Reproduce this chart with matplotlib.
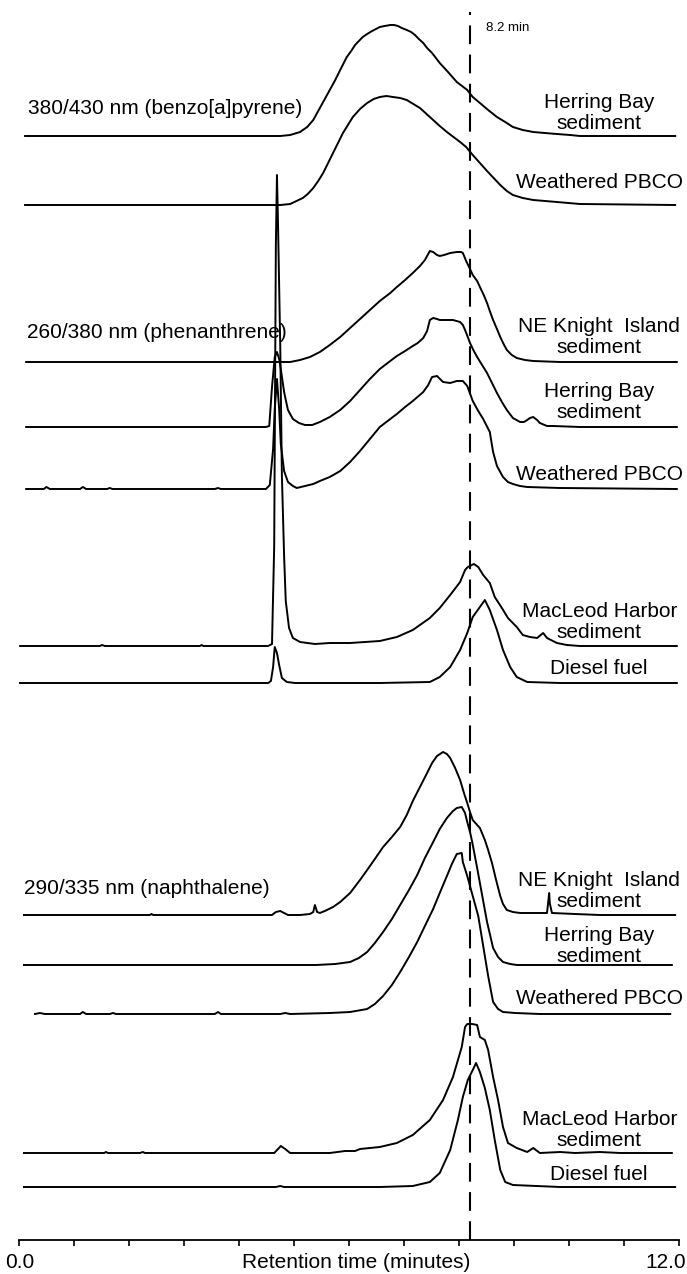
import numpy as np
import matplotlib
matplotlib.use('Agg')
import matplotlib.pyplot as plt

plt.rcParams['font.family'] = ['Liberation Sans', 'DejaVu Sans']

# (retention time in min, detector response in arbitrary units)

# 380/430 nm (benzo[a]pyrene)
bap_herring_bay = [
    (0.11, 0), (4.75, 0), (4.93, 1), (5.11, 4), (5.24, 9), (5.35, 16), (5.47, 28), (5.56, 37),
    (5.65, 46), (5.75, 56), (5.84, 66), (5.96, 79), (6.04, 85), (6.11, 91), (6.18, 95),
    (6.25, 99), (6.33, 102), (6.42, 105), (6.49, 107), (6.56, 109), (6.65, 110), (6.75, 111),
    (6.82, 111), (6.89, 110), (6.96, 108), (7.05, 106), (7.13, 104), (7.20, 101), (7.27, 97),
    (7.35, 93), (7.42, 88), (7.51, 83), (7.65, 73), (7.80, 64), (7.96, 54), (8.15, 46),
    (8.25, 39), (8.38, 33), (8.53, 26), (8.69, 19), (8.84, 14), (8.98, 9), (9.16, 6), (9.35, 4),
    (9.56, 3), (9.78, 2), (10.02, 1), (10.20, 0), (11.93, 0)]
bap_weathered = [
    (0.11, 0), (4.75, 0), (4.93, 1), (5.16, 7), (5.25, 11), (5.35, 17), (5.44, 24), (5.53, 32),
    (5.62, 42), (5.71, 52), (5.80, 62), (5.89, 72), (5.98, 80), (6.07, 88), (6.20, 96),
    (6.33, 102), (6.45, 106), (6.56, 108), (6.68, 109), (6.80, 108), (6.93, 107), (7.05, 105),
    (7.17, 101), (7.29, 97), (7.41, 91), (7.53, 85), (7.65, 79), (7.78, 73), (8.02, 63),
    (8.13, 58), (8.25, 50), (8.38, 42), (8.51, 34), (8.63, 27), (8.75, 20), (8.87, 14),
    (8.98, 10), (9.16, 7), (9.35, 5), (9.78, 3), (10.20, 1), (11.93, 0)]

# 260/380 nm (phenanthrene)
phe_ne_knight = [
    (0.13, 0), (4.56, 0), (4.93, 0), (5.11, 2), (5.29, 5), (5.47, 10), (5.65, 17), (5.84, 25),
    (6.02, 34), (6.20, 43), (6.38, 52), (6.56, 61), (6.75, 69), (6.87, 75), (7.02, 82),
    (7.16, 89), (7.29, 96), (7.38, 102), (7.47, 111), (7.53, 110), (7.60, 107), (7.65, 106),
    (7.73, 107), (7.84, 109), (7.96, 110), (8.04, 110), (8.07, 109), (8.13, 101), (8.20, 93),
    (8.25, 87), (8.33, 81), (8.38, 75), (8.45, 67), (8.51, 59), (8.56, 51), (8.62, 42),
    (8.69, 33), (8.75, 25), (8.82, 17), (8.87, 12), (8.96, 7), (9.05, 4), (9.20, 2), (9.35, 1),
    (9.84, 0), (11.96, 0)]
phe_herring_bay = [
    (0.13, 0), (4.49, 0), (4.55, 1), (4.60, 40), (4.65, 70), (4.69, 75), (4.73, 68), (4.76, 58),
    (4.82, 35), (4.89, 17), (4.98, 8), (5.09, 4), (5.20, 2), (5.33, 2), (5.47, 5), (5.65, 10),
    (5.84, 17), (6.02, 26), (6.20, 37), (6.38, 48), (6.56, 58), (6.75, 66), (6.87, 71),
    (7.02, 76), (7.16, 81), (7.25, 84), (7.35, 89), (7.42, 96), (7.47, 107), (7.53, 109),
    (7.60, 108), (7.65, 107), (7.78, 107), (7.89, 107), (8.02, 105), (8.07, 102), (8.11, 97),
    (8.16, 90), (8.20, 84), (8.27, 76), (8.33, 70), (8.42, 62), (8.51, 54), (8.60, 44),
    (8.69, 34), (8.78, 25), (8.87, 17), (8.98, 9), (9.11, 5), (9.18, 5), (9.24, 7), (9.29, 9),
    (9.35, 10), (9.42, 7), (9.47, 4), (9.60, 1), (9.71, 1), (10.20, 0), (11.96, 0)]
phe_weathered = [
    (0.13, 0), (0.45, 0), (0.50, 2), (0.56, 0), (1.11, 0), (1.16, 2), (1.22, 0), (1.60, 0),
    (1.65, 1), (1.70, 0), (3.56, 0), (3.62, 1), (3.67, 0), (4.49, 0), (4.56, 4), (4.62, 40),
    (4.65, 80), (4.69, 110), (4.73, 80), (4.76, 45), (4.82, 18), (4.89, 7), (4.98, 3),
    (5.05, 1), (5.20, 3), (5.35, 5), (5.47, 8), (5.65, 12), (5.84, 18), (6.02, 27), (6.20, 38),
    (6.38, 50), (6.56, 62), (6.75, 70), (6.87, 75), (7.02, 82), (7.16, 88), (7.35, 97),
    (7.44, 104), (7.51, 112), (7.60, 113), (7.71, 107), (7.84, 106), (7.96, 108), (8.07, 108),
    (8.15, 103), (8.25, 88), (8.35, 78), (8.44, 70), (8.56, 57), (8.62, 37), (8.69, 23),
    (8.80, 12), (8.89, 7), (8.98, 5), (9.11, 3), (9.24, 2), (9.84, 1), (11.96, 0)]
phe_macleod = [
    (0.02, 0), (1.47, 0), (1.51, 1), (1.56, 0), (3.29, 0), (3.32, 1), (3.35, 0), (4.53, 0),
    (4.60, 2), (4.64, 100), (4.67, 400), (4.69, 471), (4.71, 420), (4.75, 300), (4.78, 170),
    (4.82, 90), (4.85, 45), (4.91, 18), (4.98, 8), (5.11, 4), (5.38, 2), (5.65, 3), (6.02, 3),
    (6.29, 4), (6.56, 5), (6.87, 9), (7.16, 16), (7.47, 28), (7.65, 38), (7.84, 51), (8.02, 64),
    (8.11, 76), (8.16, 79), (8.27, 82), (8.35, 79), (8.44, 71), (8.56, 63), (8.65, 49),
    (8.78, 38), (8.89, 28), (9.05, 19), (9.16, 11), (9.29, 9), (9.42, 8), (9.53, 13), (9.60, 8),
    (9.78, 3), (9.96, 1), (10.20, 0), (11.96, 0)]
phe_diesel = [
    (0.00, 0), (4.53, 0), (4.58, 2), (4.62, 16), (4.65, 36), (4.69, 30), (4.73, 18), (4.78, 5),
    (4.87, 1), (5.02, 0), (6.56, 0), (7.47, 1), (7.65, 6), (7.84, 16), (8.02, 33), (8.15, 50),
    (8.25, 66), (8.38, 76), (8.47, 83), (8.56, 73), (8.69, 53), (8.80, 33), (8.93, 16),
    (9.05, 6), (9.24, 1), (9.84, 0), (11.96, 0)]

# 290/335 nm (naphthalene)
nap_ne_knight = [
    (0.09, 0), (2.38, 0), (2.41, 1), (2.44, 0), (4.60, 0), (4.67, 3), (4.75, 4), (4.82, 2),
    (4.89, 0), (5.11, 0), (5.29, 1), (5.35, 3), (5.38, 10), (5.42, 3), (5.47, 2), (5.56, 4),
    (5.71, 8), (5.84, 13), (6.02, 22), (6.20, 35), (6.33, 45), (6.47, 56), (6.62, 68),
    (6.78, 78), (6.93, 88), (7.05, 100), (7.16, 114), (7.29, 128), (7.42, 142), (7.51, 152),
    (7.60, 159), (7.71, 163), (7.78, 161), (7.84, 157), (7.93, 147), (8.02, 135), (8.09, 122),
    (8.15, 112), (8.20, 103), (8.25, 95), (8.33, 90), (8.38, 87), (8.47, 75), (8.53, 65),
    (8.60, 52), (8.67, 36), (8.75, 19), (8.80, 11), (8.87, 5), (8.98, 3), (9.11, 2), (9.60, 2),
    (9.64, 22), (9.65, 12), (9.69, 2), (10.11, 1), (10.56, 0), (11.93, 0)]
nap_herring_bay = [
    (0.09, 0), (5.40, 0), (5.75, 1), (6.02, 3), (6.18, 7), (6.33, 13), (6.47, 22), (6.62, 33),
    (6.78, 46), (6.93, 60), (7.09, 75), (7.24, 90), (7.38, 107), (7.53, 123), (7.65, 136),
    (7.78, 147), (7.89, 154), (7.96, 157), (8.05, 158), (8.11, 152), (8.15, 143), (8.20, 133),
    (8.24, 123), (8.33, 97), (8.42, 70), (8.51, 43), (8.62, 17), (8.71, 8), (8.80, 3),
    (8.93, 1), (9.05, 0), (11.87, 0)]
nap_weathered = [
    (0.29, 0), (0.38, 1), (0.47, 0), (1.11, 0), (1.16, 2), (1.22, 0), (1.65, 0), (1.71, 1),
    (1.76, 0), (3.56, 0), (3.62, 2), (3.67, 0), (4.75, 0), (4.84, 1), (4.93, 0), (5.65, 1),
    (6.02, 2), (6.33, 5), (6.47, 10), (6.62, 18), (6.78, 29), (6.93, 42), (7.09, 57),
    (7.24, 72), (7.38, 88), (7.53, 105), (7.65, 121), (7.78, 138), (7.87, 150), (7.96, 160),
    (8.05, 161), (8.07, 152), (8.15, 138), (8.25, 118), (8.35, 98), (8.44, 68), (8.53, 38),
    (8.62, 12), (8.71, 5), (8.80, 2), (9.02, 1), (9.47, 0), (11.84, 0)]
nap_macleod = [
    (0.09, 0), (1.55, 0), (1.58, 1), (1.62, 0), (2.20, 0), (2.25, 1), (2.29, 0), (4.64, 0),
    (4.71, 4), (4.76, 7), (4.84, 4), (4.93, 0), (5.65, 0), (5.93, 2), (6.11, 2), (6.20, 4),
    (6.38, 5), (6.56, 6), (6.87, 10), (7.16, 18), (7.47, 33), (7.71, 53), (7.89, 76),
    (8.05, 106), (8.11, 126), (8.15, 129), (8.24, 129), (8.33, 128), (8.38, 116), (8.47, 113),
    (8.53, 103), (8.62, 76), (8.71, 53), (8.80, 26), (8.89, 10), (9.05, 5), (9.24, 1),
    (9.35, 5), (9.47, 0), (9.84, 1), (10.11, 0), (10.56, 1), (10.93, 0), (11.87, 0)]
nap_diesel = [
    (0.09, 0), (4.67, 0), (4.75, 1), (4.82, 0), (6.56, 0), (7.16, 1), (7.47, 5), (7.65, 14),
    (7.84, 37), (7.98, 67), (8.07, 90), (8.16, 107), (8.25, 117), (8.31, 124), (8.38, 115),
    (8.47, 99), (8.56, 77), (8.65, 47), (8.75, 17), (8.84, 5), (8.98, 2), (9.84, 0), (11.93, 0)]

marker_time = 8.2  # min

# vertical stacking offset of each trace
traces = [
    (bap_herring_bay, 1104), (bap_weathered, 1035),
    (phe_ne_knight, 878), (phe_herring_bay, 813), (phe_weathered, 751),
    (phe_macleod, 594), (phe_diesel, 557),
    (nap_ne_knight, 325), (nap_herring_bay, 275), (nap_weathered, 226),
    (nap_macleod, 87), (nap_diesel, 53),
]

sample_labels = [
    ('Herring Bay\nsediment', 1127), ('Weathered PBCO', 1057),
    ('NE Knight  Island\nsediment', 903), ('Herring Bay\nsediment', 838),
    ('Weathered PBCO', 765), ('MacLeod Harbor\nsediment', 618), ('Diesel fuel', 571),
    ('NE Knight  Island\nsediment', 349), ('Herring Bay\nsediment', 294),
    ('Weathered PBCO', 241), ('MacLeod Harbor\nsediment', 110), ('Diesel fuel', 66),
]
channel_labels = [
    ('380/430 nm (benzo[a]pyrene)', 0.16, 1132),
    ('260/380 nm (phenanthrene)', 0.15, 907),
    ('290/335 nm (naphthalene)', 0.09, 351),
]

fig = plt.figure(figsize=(6.87, 12.74), dpi=100)
ax = fig.add_axes([19 / 687, 34 / 1274, 660 / 687, 1240 / 1274])
ax.set_xlim(0, 12)
ax.set_ylim(0, 1240)

for data, offset in traces:
    t, h = np.array(data, dtype=float).T
    ax.plot(t, h + offset, color='black', lw=1.4, solid_joinstyle='round')

ax.plot([marker_time, marker_time], [0, 1228], color='black', lw=1.5,
        linestyle=(0, (9, 5)))
ax.text(marker_time + 0.69, 1212, f'{marker_time} min', fontsize=9.5, ha='center', va='center')

fs = 15
for label, y in sample_labels:
    ax.text(10.55, y, label, fontsize=fs, ha='center', va='center', linespacing=1.1)
for label, x, y in channel_labels:
    ax.text(x, y, label, fontsize=fs, ha='left', va='center')

for s in ['left', 'right', 'top']:
    ax.spines[s].set_visible(False)
ax.spines['bottom'].set_linewidth(1.3)
ax.set_xticks(np.arange(0, 13, 1))
ax.set_xticklabels([])
ax.set_yticks([])
ax.tick_params(axis='x', direction='out', length=4, width=1.2)

ax.text(0.02, -22, '0.0', fontsize=fs, ha='center', va='center')
ax.text(12.13, -22, '12.0', fontsize=fs, ha='right', va='center')
ax.text(6.13, -22, 'Retention time (minutes)', fontsize=fs, ha='center', va='center')

fig.savefig('out.png', dpi=100)
